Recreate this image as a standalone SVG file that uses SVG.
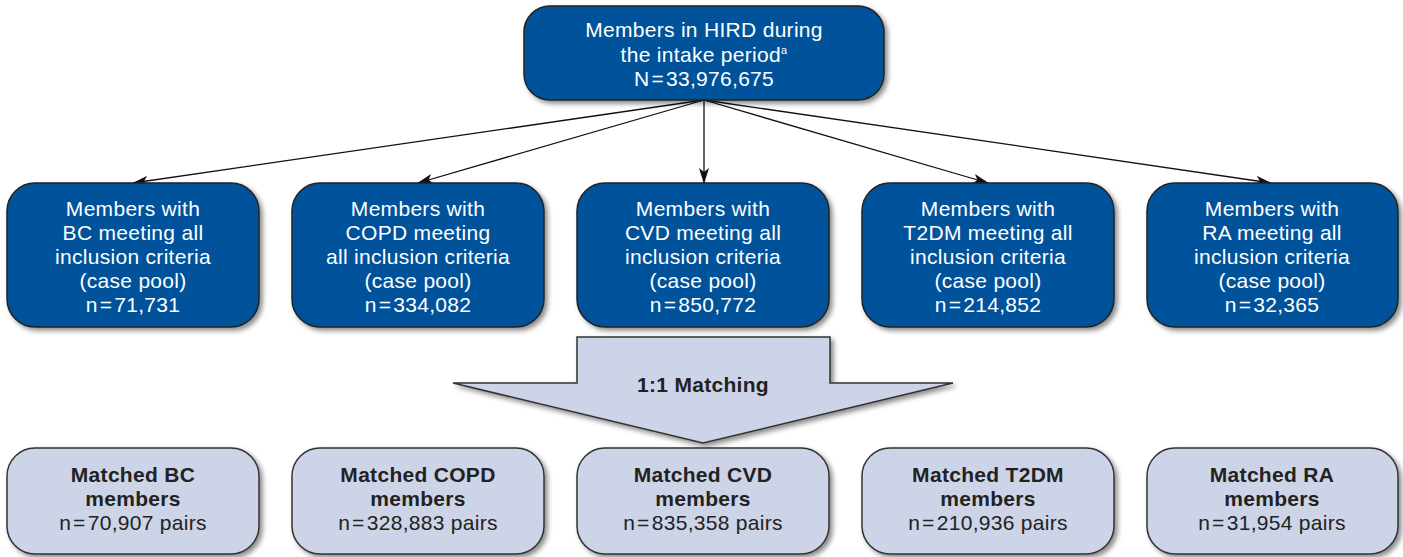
<svg xmlns="http://www.w3.org/2000/svg" width="1403" height="557" viewBox="0 0 1403 557">
  <defs>
    <filter id="shadow" x="-10%" y="-10%" width="125%" height="130%">
      <feDropShadow dx="3" dy="3" stdDeviation="2.5" flood-color="#000" flood-opacity="0.45"/>
    </filter>
    <marker id="arrow" viewBox="0 0 16 10" refX="15" refY="5" markerWidth="16" markerHeight="10" markerUnits="userSpaceOnUse" orient="auto">
      <path d="M0,0 L16,5 L0,10 L4,5 Z" fill="#111"/>
    </marker>
    <style>
      .dark { fill: #00539b; stroke: #222; stroke-width: 1.5; }
      .light { fill: #cdd4e7; stroke: #333; stroke-width: 1.5; }
      .wt { font-family: "Liberation Sans", Arial, sans-serif; font-size: 21px; letter-spacing: 0.3px; fill: #fff; text-anchor: middle; }
      .bt { font-family: "Liberation Sans", Arial, sans-serif; font-size: 21px; letter-spacing: 0.3px; fill: #222; text-anchor: middle; }
      .b { font-weight: bold; }
      .conn { stroke: #111; stroke-width: 1.3; fill: none; marker-end: url(#arrow); }
    </style>
  </defs>

  <!-- connectors from the population box to each case pool -->
  <g id="connectors">
    <line class="conn" x1="704" y1="100" x2="133" y2="183"/>
    <line class="conn" x1="704" y1="100" x2="418" y2="183"/>
    <line class="conn" x1="704" y1="100" x2="704" y2="183"/>
    <line class="conn" x1="704" y1="100" x2="988" y2="183"/>
    <line class="conn" x1="704" y1="100" x2="1271" y2="183"/>
  </g>

  <!-- top: whole database population -->
  <g id="hird">
    <rect class="dark" x="524" y="6" width="360" height="94" rx="26" filter="url(#shadow)"/>
    <text class="wt" x="704" y="37">Members in HIRD during</text>
    <text class="wt" x="704" y="62">the intake period<tspan font-size="11" dy="-8">a</tspan></text>
    <text class="wt" x="704" y="86">N<tspan dx="2">=</tspan><tspan dx="2">33,976,675</tspan></text>
  </g>

  <!-- case pools -->
  <g id="pool-bc">
    <rect class="dark" x="7" y="183" width="252" height="144" rx="28" filter="url(#shadow)"/>
    <text class="wt" x="133" y="216">Members with</text>
    <text class="wt" x="133" y="240">BC meeting all</text>
    <text class="wt" x="133" y="264">inclusion criteria</text>
    <text class="wt" x="133" y="288">(case pool)</text>
    <text class="wt" x="133" y="312">n<tspan dx="2">=</tspan><tspan dx="2">71,731</tspan></text>
  </g>
  <g id="pool-copd">
    <rect class="dark" x="292" y="183" width="252" height="144" rx="28" filter="url(#shadow)"/>
    <text class="wt" x="418" y="216">Members with</text>
    <text class="wt" x="418" y="240">COPD meeting</text>
    <text class="wt" x="418" y="264">all inclusion criteria</text>
    <text class="wt" x="418" y="288">(case pool)</text>
    <text class="wt" x="418" y="312">n<tspan dx="2">=</tspan><tspan dx="2">334,082</tspan></text>
  </g>
  <g id="pool-cvd">
    <rect class="dark" x="577" y="183" width="252" height="144" rx="28" filter="url(#shadow)"/>
    <text class="wt" x="703" y="216">Members with</text>
    <text class="wt" x="703" y="240">CVD meeting all</text>
    <text class="wt" x="703" y="264">inclusion criteria</text>
    <text class="wt" x="703" y="288">(case pool)</text>
    <text class="wt" x="703" y="312">n<tspan dx="2">=</tspan><tspan dx="2">850,772</tspan></text>
  </g>
  <g id="pool-t2dm">
    <rect class="dark" x="862" y="183" width="252" height="144" rx="28" filter="url(#shadow)"/>
    <text class="wt" x="988" y="216">Members with</text>
    <text class="wt" x="988" y="240">T2DM meeting all</text>
    <text class="wt" x="988" y="264">inclusion criteria</text>
    <text class="wt" x="988" y="288">(case pool)</text>
    <text class="wt" x="988" y="312">n<tspan dx="2">=</tspan><tspan dx="2">214,852</tspan></text>
  </g>
  <g id="pool-ra">
    <rect class="dark" x="1147" y="183" width="251" height="144" rx="28" filter="url(#shadow)"/>
    <text class="wt" x="1272" y="216">Members with</text>
    <text class="wt" x="1272" y="240">RA meeting all</text>
    <text class="wt" x="1272" y="264">inclusion criteria</text>
    <text class="wt" x="1272" y="288">(case pool)</text>
    <text class="wt" x="1272" y="312">n<tspan dx="2">=</tspan><tspan dx="2">32,365</tspan></text>
  </g>

  <!-- block arrow for the matching step -->
  <g id="matching">
    <path class="light" d="M577,337 L830,337 L830,383 L953,383 L703,443 L453,383 L577,383 Z" filter="url(#shadow)"/>
    <text class="bt b" x="703" y="392">1:1 Matching</text>
  </g>

  <!-- matched pairs -->
  <g id="matched-bc">
    <rect class="light" x="7" y="448" width="252" height="106" rx="28" filter="url(#shadow)"/>
    <text class="bt b" x="133" y="482">Matched BC</text>
    <text class="bt b" x="133" y="506">members</text>
    <text class="bt" x="133" y="530">n<tspan dx="2">=</tspan><tspan dx="2">70,907 pairs</tspan></text>
  </g>
  <g id="matched-copd">
    <rect class="light" x="292" y="448" width="252" height="106" rx="28" filter="url(#shadow)"/>
    <text class="bt b" x="418" y="482">Matched COPD</text>
    <text class="bt b" x="418" y="506">members</text>
    <text class="bt" x="418" y="530">n<tspan dx="2">=</tspan><tspan dx="2">328,883 pairs</tspan></text>
  </g>
  <g id="matched-cvd">
    <rect class="light" x="577" y="448" width="252" height="106" rx="28" filter="url(#shadow)"/>
    <text class="bt b" x="703" y="482">Matched CVD</text>
    <text class="bt b" x="703" y="506">members</text>
    <text class="bt" x="703" y="530">n<tspan dx="2">=</tspan><tspan dx="2">835,358 pairs</tspan></text>
  </g>
  <g id="matched-t2dm">
    <rect class="light" x="862" y="448" width="252" height="106" rx="28" filter="url(#shadow)"/>
    <text class="bt b" x="988" y="482">Matched T2DM</text>
    <text class="bt b" x="988" y="506">members</text>
    <text class="bt" x="988" y="530">n<tspan dx="2">=</tspan><tspan dx="2">210,936 pairs</tspan></text>
  </g>
  <g id="matched-ra">
    <rect class="light" x="1147" y="448" width="251" height="106" rx="28" filter="url(#shadow)"/>
    <text class="bt b" x="1272" y="482">Matched RA</text>
    <text class="bt b" x="1272" y="506">members</text>
    <text class="bt" x="1272" y="530">n<tspan dx="2">=</tspan><tspan dx="2">31,954 pairs</tspan></text>
  </g>
</svg>
